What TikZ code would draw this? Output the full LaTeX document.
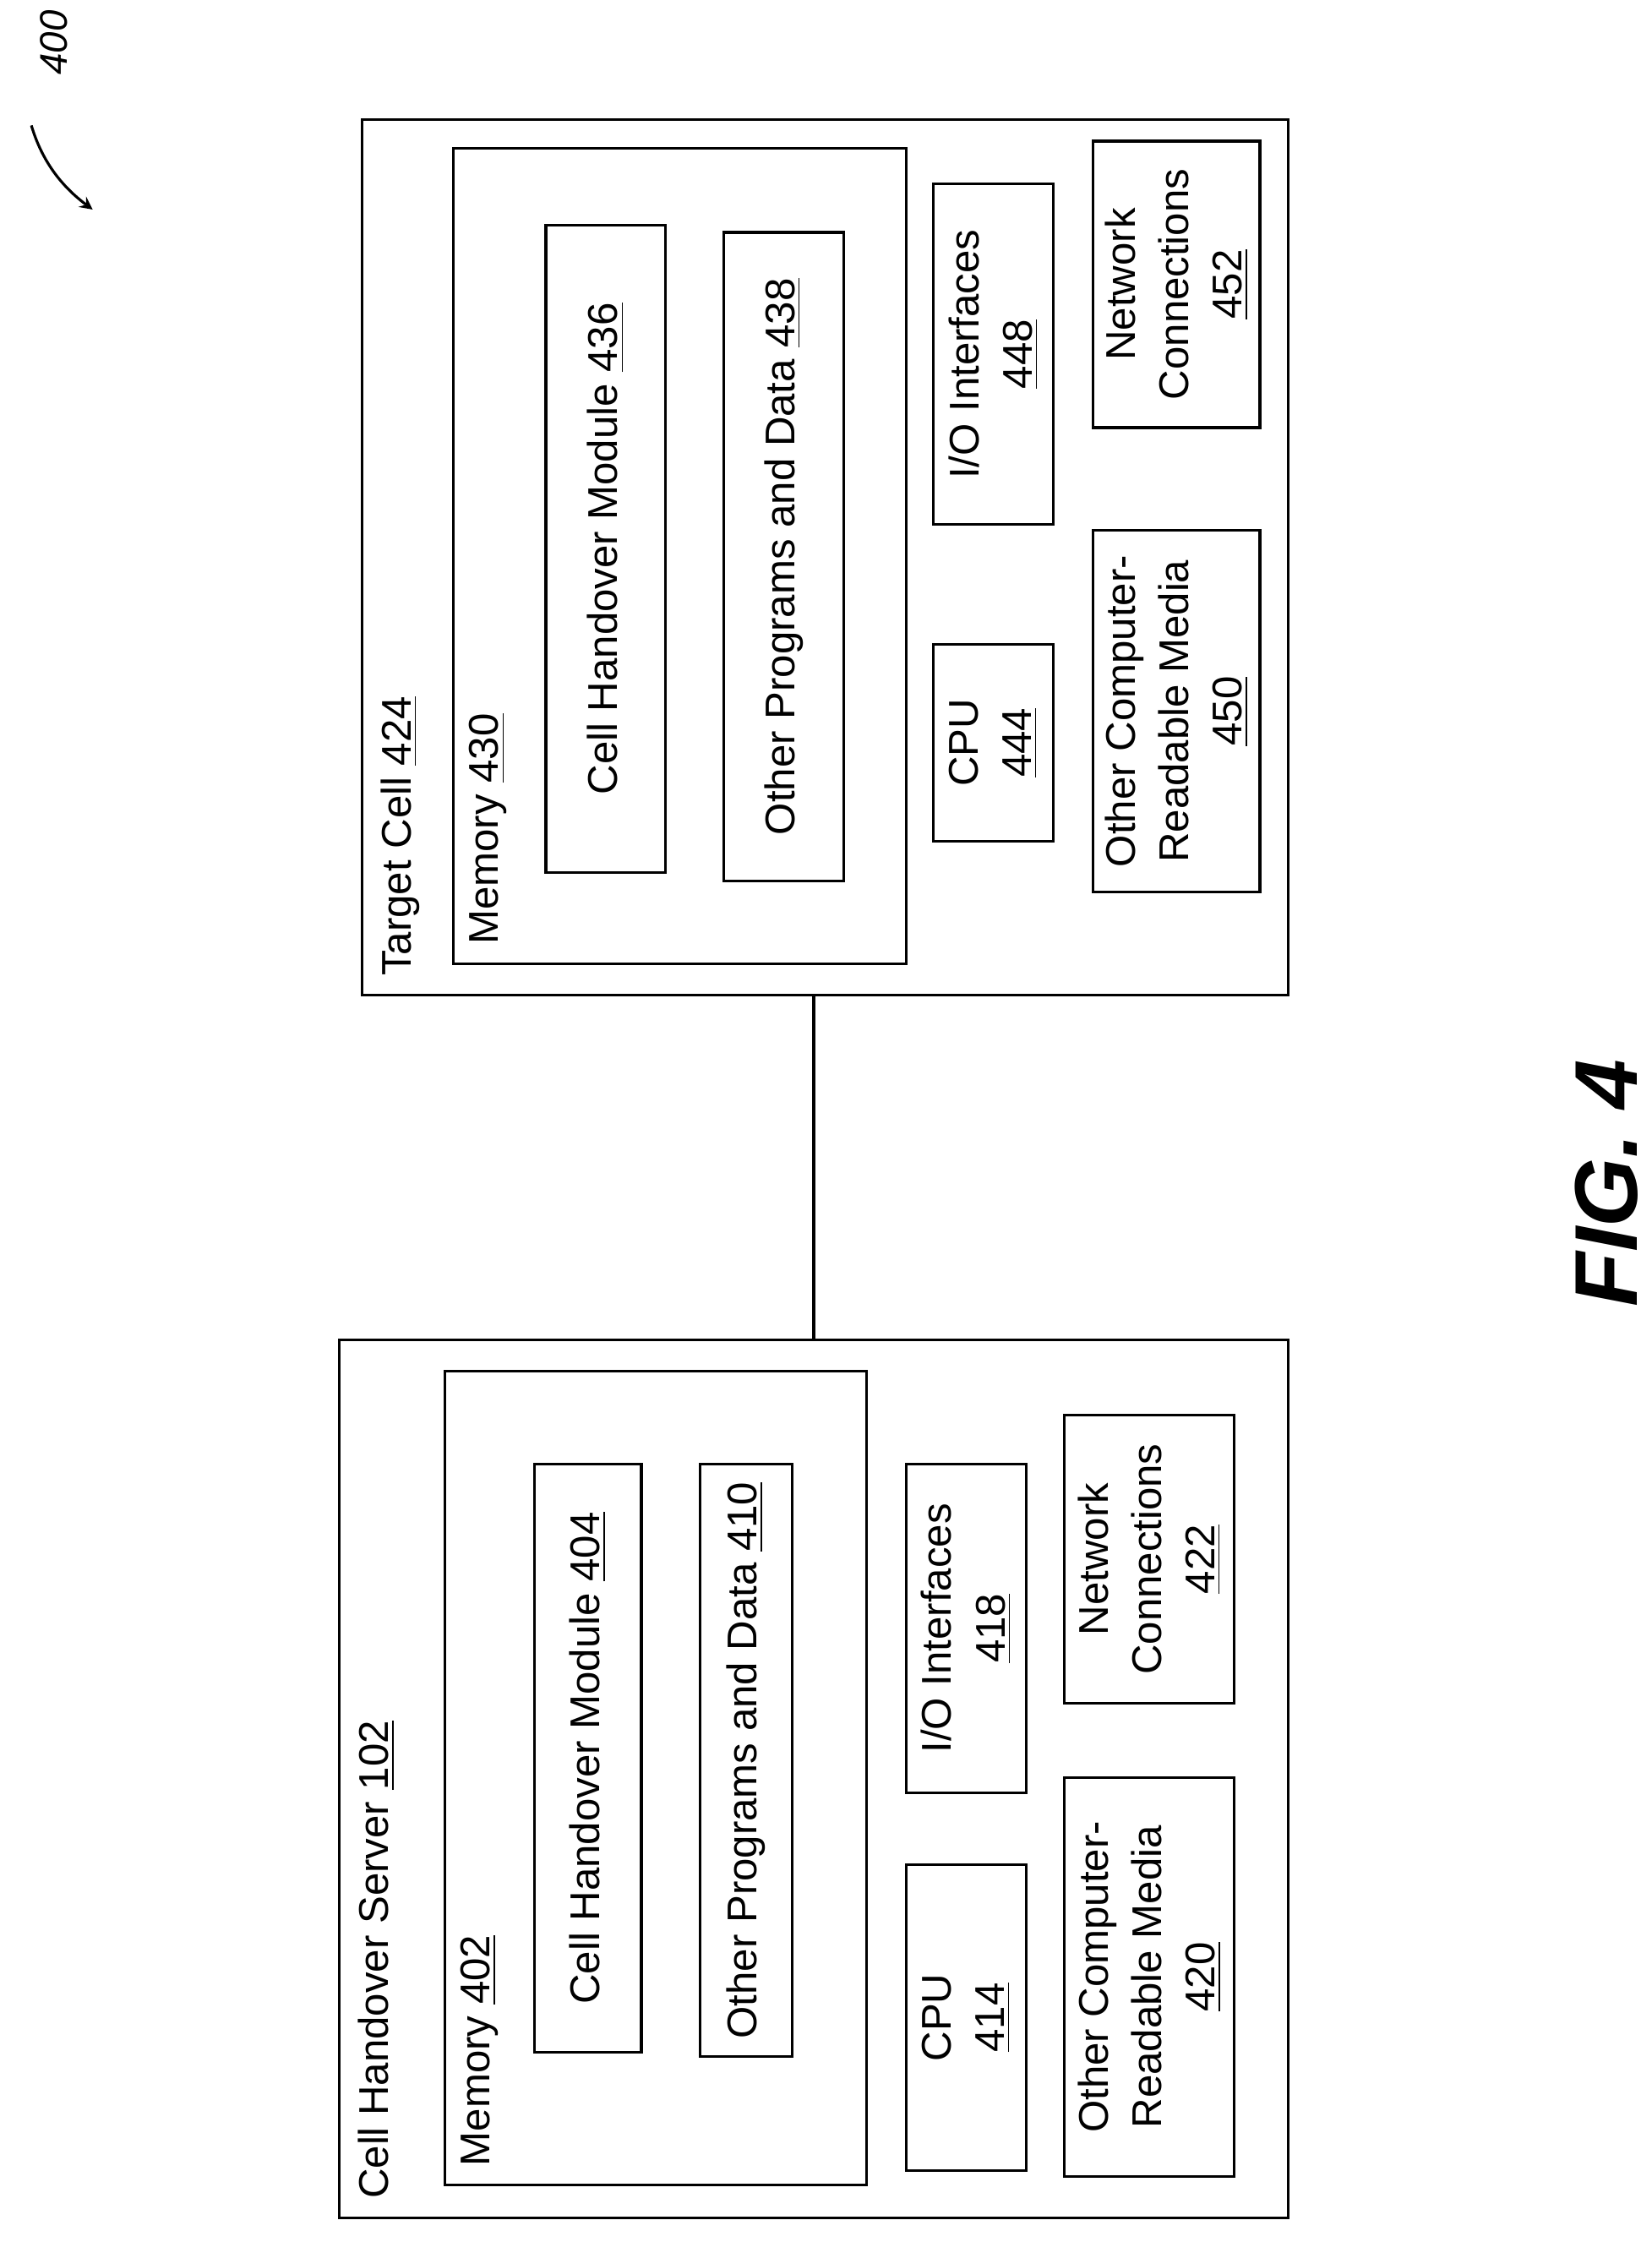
\documentclass[tikz,border=0pt]{standalone}
\usepackage{fontspec}
\setmainfont{Liberation Sans}
\usetikzlibrary{fit}
\tikzset{
  box/.style={draw, line width=0.9pt, inner sep=0pt},
  lbl/.style={rotate=90, align=center, font=\fontsize{14}{18}\selectfont},
}
\newcommand{\ul}[1]{\underline{#1}}
\begin{document}
\begin{tikzpicture}[x=0.01687cm, y=-0.01687cm]
  \useasboundingbox (0,0) rectangle (1159,1573);

  % cell handover server
  \node[box, fit={(238,940)(904,1556)}] (server) {};
  \node[lbl, anchor=north west] (serverlbl) at (244,1550) {Cell Handover Server \ul{102}};
  \node[box, fit={(312,962)(608,1533)}] (mem1) {};
  \node[lbl, anchor=north west] (mem1lbl) at (316,1527) {Memory \ul{402}};
  \node[box, fit={(375,1027)(450,1440)}] (chm1) {};
  \node[lbl] at (chm1) {Cell Handover Module \ul{404}};
  \node[box, fit={(491,1027)(556,1443)}] (opd1) {};
  \node[lbl] at (opd1) {Other Programs and Data \ul{410}};
  \node[box, fit={(636,1308)(720,1523)}] (cpu1) {};
  \node[lbl] at (cpu1) {CPU\\\ul{414}};
  \node[box, fit={(636,1027)(720,1258)}] (io1) {};
  \node[lbl] at (io1) {I/O Interfaces\\\ul{418}};
  \node[box, fit={(747,993)(866,1195)}] (net1) {};
  \node[lbl] at (net1) {Network\\Connections\\\ul{422}};
  \node[box, fit={(747,1247)(866,1527)}] (crm1) {};
  \node[lbl] at (crm1) {Other Computer-\\Readable Media\\\ul{420}};

  % target cell
  \node[box, fit={(254,84)(904,698)}] (cell) {};
  \node[lbl, anchor=north west] (celllbl) at (260,692) {Target Cell \ul{424}};
  \node[box, fit={(318,104)(636,676)}] (mem2) {};
  \node[lbl, anchor=north west] (mem2lbl) at (322,670) {Memory \ul{430}};
  \node[box, fit={(383,158)(467,612)}] (chm2) {};
  \node[lbl] at (chm2) {Cell Handover Module \ul{436}};
  \node[box, fit={(508,163)(592,618)}] (opd2) {};
  \node[lbl] at (opd2) {Other Programs and Data \ul{438}};
  \node[box, fit={(655,452)(739,590)}] (cpu2) {};
  \node[lbl] at (cpu2) {CPU\\\ul{444}};
  \node[box, fit={(655,129)(739,368)}] (io2) {};
  \node[lbl] at (io2) {I/O Interfaces\\\ul{448}};
  \node[box, fit={(767,99)(884,300)}] (net2) {};
  \node[lbl] at (net2) {Network\\Connections\\\ul{452}};
  \node[box, fit={(767,372)(884,626)}] (crm2) {};
  \node[lbl] at (crm2) {Other Computer-\\Readable Media\\\ul{450}};

  \coordinate (link) at (571,940);
  \draw[line width=0.9pt] (cell.south |- cell.south) ++(0,0) (link |- cell.south) -- (link);

  % figure number
  \node[rotate=90, font=\fontsize{13}{15}\selectfont\itshape] (num) at (38,30) {400};
  \coordinate (numend) at (65,147);
  \draw[line width=0.9pt, -stealth] (22,88) .. controls (30,115) and (45,132) .. (numend);
  \node[rotate=90, font=\fontsize{30}{34}\selectfont\bfseries\itshape] (fig) at (1127,830) {FIG. 4};
\end{tikzpicture}
\end{document}
